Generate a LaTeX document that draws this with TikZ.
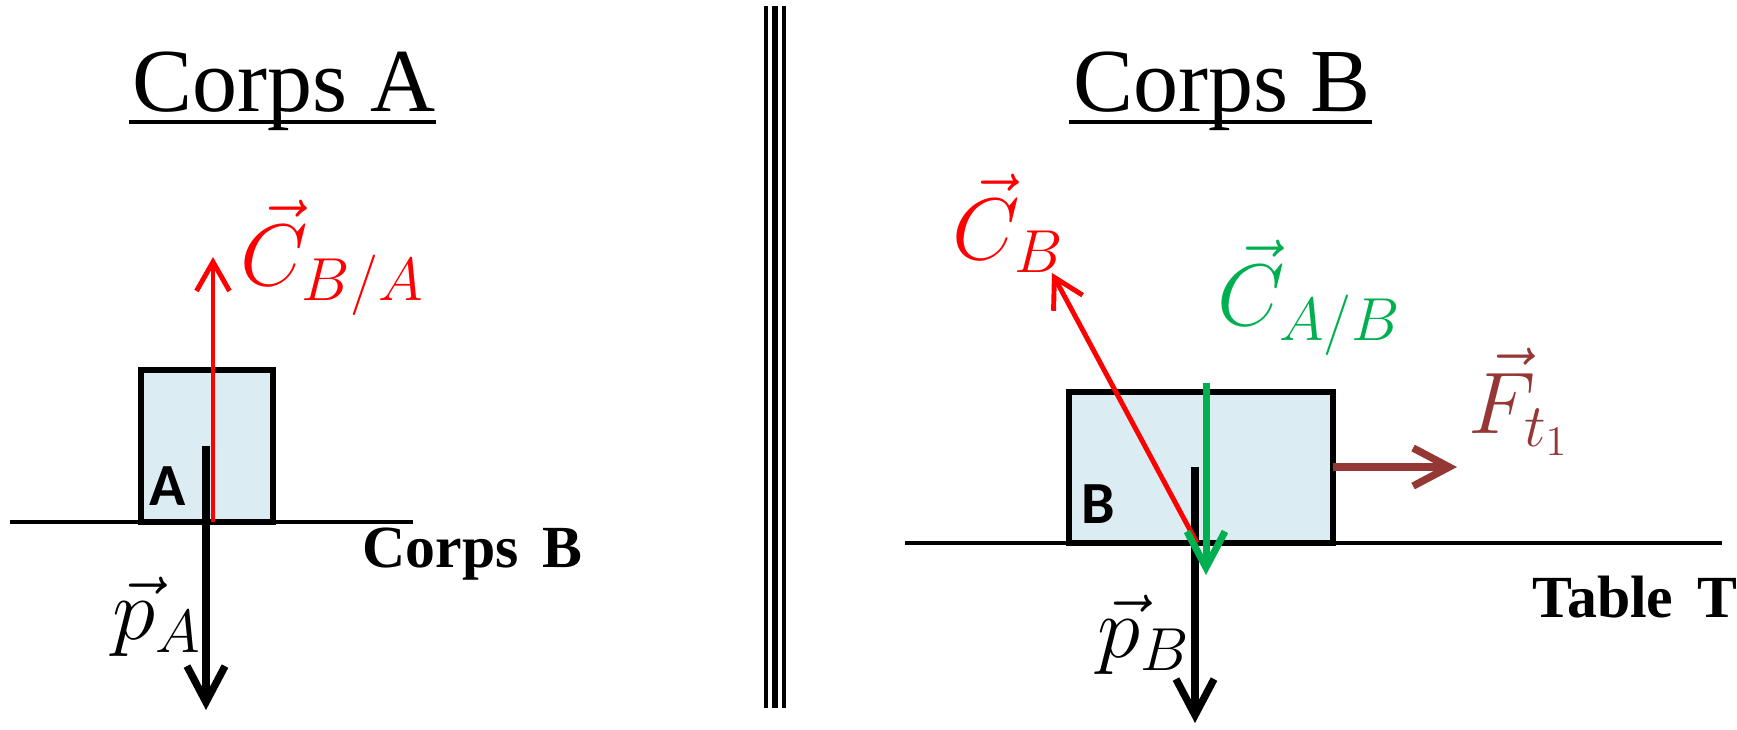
\documentclass[tikz,border=0pt]{standalone}
\usepackage{fontspec}
\setmainfont{Liberation Serif}
\newfontfamily\calfont{Carlito}
\usetikzlibrary{arrows.meta,positioning}
\definecolor{boxblue}{RGB}{219,236,242}
\definecolor{forcegreen}{RGB}{0,176,80}
\definecolor{forcebrown}{RGB}{149,55,53}
\tikzset{
 body/.style={draw,line width=1.7pt,fill=boxblue},
 ground/.style={line width=1.2pt},
 force/.style={-{Straight Barb[length=2.9mm,width=3.3mm]},line width=1.4pt},
 weight/.style={-{Straight Barb[length=3.6mm,width=3.8mm]},line width=2.1pt},
 title/.style={font=\fontsize{25.6}{30}\selectfont,inner sep=0pt},
 tag/.style={font=\fontsize{17}{20}\selectfont\bfseries,inner sep=0pt},
 boxtag/.style={font=\fontsize{17}{20}\selectfont\calfont\bfseries,inner sep=0pt},
 vlabel/.style={font=\fontsize{24}{28}\selectfont,inner sep=0pt}
}

\begin{document}
\begin{tikzpicture}[x=0.01cm,y=-0.01cm]
\useasboundingbox (0,0) rectangle (1737,729);
% Corps A
\node[title,anchor=base] (titA) at (284,111) {Corps A};
\draw[line width=1.2pt] ([xshift=-0.03cm,yshift=-0.11cm]titA.base west) -- ([yshift=-0.11cm]titA.base east);
\draw[ground] (10,522) -- (413,522);
\draw[body] (141,370) rectangle (273,522);
\node[boxtag,anchor=base west] (lblA) at (149,505) {A};
\coordinate (pAfrom) at (206,446);
\coordinate (pAto) at (206,710);
\coordinate (cBAfrom) at (213,522);
\coordinate (cBAto) at (213,257);
\draw[weight] (pAfrom) -- (pAto);
\draw[force,red] (cBAfrom) -- (cBAto);
\node[vlabel,red,anchor=base west] (cBA) at (240,285) {$\vec{C}_{B/A}$};
\node[vlabel,anchor=base west] (pA) at (112,639) {$\vec{p}_A$};
\node[tag,anchor=base west] (corpsB) at (362,567) {Corps\hspace{0.4em}B};
% separation
\foreach \x/\w in {766/1pt,775/1.5pt,784/1.2pt}
  \draw[line width=\w] (\x,6) -- (\x,708);
% Corps B
\node[title,anchor=base] (titB) at (1222,111) {Corps B};
\draw[line width=1.2pt] ([xshift=-0.03cm,yshift=-0.11cm]titB.base west) -- ([yshift=-0.11cm]titB.base east);
\draw[ground] (905,543) -- (1722,543);
\draw[body] (1069,392) rectangle (1333,543);
\node[boxtag,anchor=base west] (lblB) at (1081,523) {B};
\coordinate (pBfrom) at (1195,467);
\coordinate (pBto) at (1195,723);
\coordinate (cABfrom) at (1206,383);
\coordinate (cABto) at (1206,575);
\coordinate (cBfrom) at (1197,543);
\coordinate (cBto) at (1052,273);
\coordinate (ftfrom) at (1333,467);
\coordinate (ftto) at (1457,467);
\draw[weight] (pBfrom) -- (pBto);
\draw[force,red] (cBfrom) -- (cBto);
\draw[weight,forcegreen,line width=2pt] (cABfrom) -- (cABto);
\draw[weight,forcebrown] (ftfrom) -- (ftto);
\node[vlabel,red,anchor=base west] (cB) at (952,259) {$\vec{C}_B$};
\node[vlabel,forcegreen,anchor=base west] (cAB) at (1217,325) {$\vec{C}_{A/B}$};
\node[vlabel,forcebrown,anchor=base west] (ft) at (1468,433) {$\vec{F}_{t_1}$};
\node[vlabel,anchor=base west] (pB) at (1097,657) {$\vec{p}_B$};
\node[tag,anchor=base west] (table) at (1532,617) {Table\hspace{0.4em}T};
\end{tikzpicture}
\end{document}
